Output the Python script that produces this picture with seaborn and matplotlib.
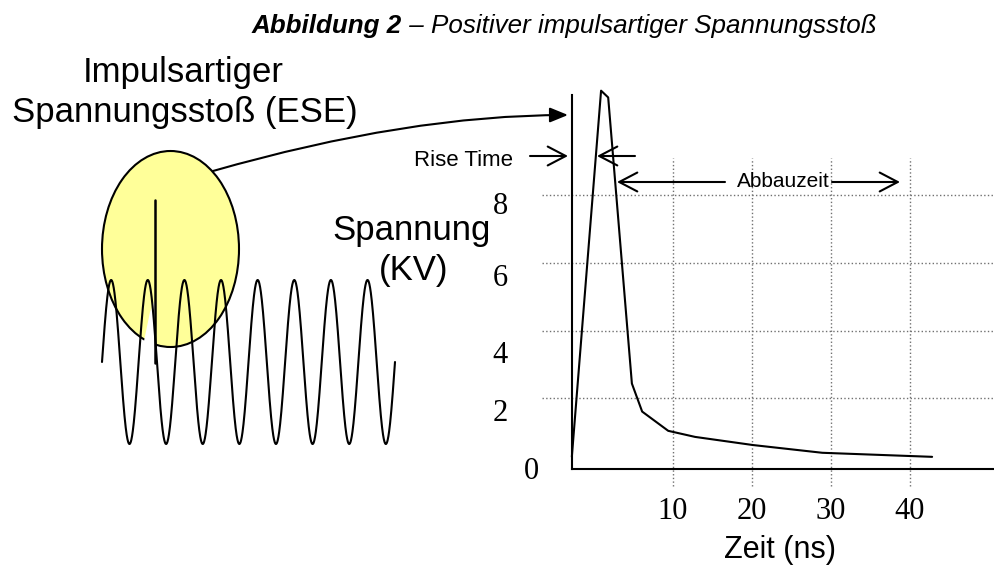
import numpy as np
import seaborn as sns
import matplotlib.pyplot as plt
from matplotlib import font_manager
from matplotlib.patches import Ellipse, Polygon
from matplotlib.transforms import ScaledTranslation

# Impulse curve
time_ns = [-2.8, 0.9, 1.8, 4.8, 6.1, 9.4, 12.8, 20.1, 28.9, 42.8]
voltage_kv = [0.26, 11.1, 10.9, 2.43, 1.6, 1.03, 0.85, 0.61, 0.38, 0.26]
x_ticks = [10, 20, 30, 40]
y_ticks = [0, 2, 4, 6, 8]
x_tick_labels = ["10", "20", "30", "40"]
y_tick_labels = ["0", "2", "4", "6", "8"]

title_bold = "Abbildung 2"
title_rest = " \u2013 Positiver impulsartiger Spannungsstoß"

sns.set_style("white")
names = {f.name for f in font_manager.fontManager.ttflist}
narrow = "Liberation Sans Narrow" if "Liberation Sans Narrow" in names else "Liberation Sans"
plt.rcParams["font.family"] = ["Liberation Sans", "DejaVu Sans"]
plt.rcParams.update({"text.color": "black", "axes.labelcolor": "black",
                     "xtick.color": "black", "ytick.color": "black"})

fig = plt.figure(figsize=(9.95, 5.67), dpi=100)
W, H = 995, 567

# main chart axes
ax = fig.add_axes([572 / W, (H - 469) / H, (W - 572) / W, (469 - 90) / H])
ax.set_xlim(-2.78, 50.76)
ax.set_ylim(-0.1, 11.12)

ax.hlines(y_ticks[1:], -6.6, 50.76, colors="#707070", linestyles=":", linewidth=1.0, clip_on=False)
ax.vlines(x_ticks, -0.6, 9.1, colors="#707070", linestyles=":", linewidth=1.0, clip_on=False)

sns.lineplot(x=time_ns, y=voltage_kv, sort=False, color="black", linewidth=1.5, ax=ax)
ax.get_lines()[-1].set_clip_on(False)

for s in ["top", "right"]:
    ax.spines[s].set_visible(False)
for s in ["left", "bottom"]:
    ax.spines[s].set_color("black")
    ax.spines[s].set_linewidth(1.5)
ax.spines["left"].set_bounds(-0.1, 10.97)

ax.set_xticks(x_ticks, x_tick_labels, family="Liberation Serif", fontsize=22)
ax.set_yticks(y_ticks, y_tick_labels, family="Liberation Serif", fontsize=22)
ax.tick_params(axis="x", length=0, pad=20)
ax.tick_params(axis="y", length=0, pad=46)
# the y labels in the original sit a bit off the grid lines
shifts = [(31, -2), (0, -12), (0, -21), (0, -12), (0, -8)]
for lab, (dx, dy) in zip(ax.get_yticklabels(), shifts):
    lab.set_transform(lab.get_transform() + ScaledTranslation(dx / 100, dy / 100, fig.dpi_scale_trans))

# overlay in pixel coordinates for the drawing on the left
ov = fig.add_axes([0, 0, 1, 1], zorder=3)
ov.set_xlim(0, W)
ov.set_ylim(H, 0)
ov.axis("off")
ov.patch.set_visible(False)

ov.add_patch(Ellipse((170.5, 249), 137, 196, facecolor="#FFFF99", edgecolor="black", linewidth=1.5, zorder=1))
ov.add_patch(Polygon([(143, 346), (150, 312), (155, 300), (156, 300), (156, 352)], closed=True,
                     facecolor="white", edgecolor="none", zorder=2))
wx = np.linspace(102, 395, 1200)
wy = 362 - 82 * np.sin(2 * np.pi * 8 * (wx - 102) / 293)
ov.plot(wx, wy, color="black", linewidth=1.5, zorder=3)
ov.plot([155, 155], [200, 363], color="black", linewidth=1.8, zorder=3)

ov.annotate("", xy=(568, 115), xytext=(213, 171),
            arrowprops=dict(arrowstyle="-|>,head_length=1.1,head_width=0.45", mutation_scale=10,
                            connectionstyle="angle3,angleA=16,angleB=0", color="black",
                            linewidth=1.5, shrinkA=0, shrinkB=0))
open_head = "->,head_length=1.3,head_width=0.68"
for start, end in [((530, 156), (568, 156)), ((635, 156), (597, 156)),
                   ((725, 182), (617, 182)), ((832, 182), (900, 182))]:
    ov.annotate("", xy=end, xytext=start,
                arrowprops=dict(arrowstyle=open_head, mutation_scale=10, color="black",
                                linewidth=1.5, shrinkA=0, shrinkB=0))

ov.text(513, 166, "Rise Time", family=narrow, fontsize=16, ha="right", va="baseline")
ov.text(783, 187, "Abbauzeit", family=narrow, fontsize=15, ha="center", va="baseline")

ov.text(183, 82, "Impulsartiger", fontsize=25, ha="center", va="baseline")
ov.text(185, 122, "Spannungsstoß (ESE)", fontsize=25, ha="center", va="baseline")
ov.text(412, 240, "Spannung", fontsize=25, ha="center", va="baseline")
ov.text(414, 280, "(KV)", fontsize=25, ha="center", va="baseline")
ov.text(780, 558, "Zeit (ns)", fontsize=22, ha="center", va="baseline")

t1 = ov.text(252, 33, title_bold, family=narrow, fontsize=18.7, fontweight="bold", fontstyle="italic",
             ha="left", va="baseline")
fig.canvas.draw()
bb = t1.get_window_extent()
ov.text(bb.x1, H - 33, title_rest, family=narrow, fontsize=18.7, fontstyle="italic",
        ha="left", va="baseline", transform=None)

fig.savefig("out.png", dpi=100)
